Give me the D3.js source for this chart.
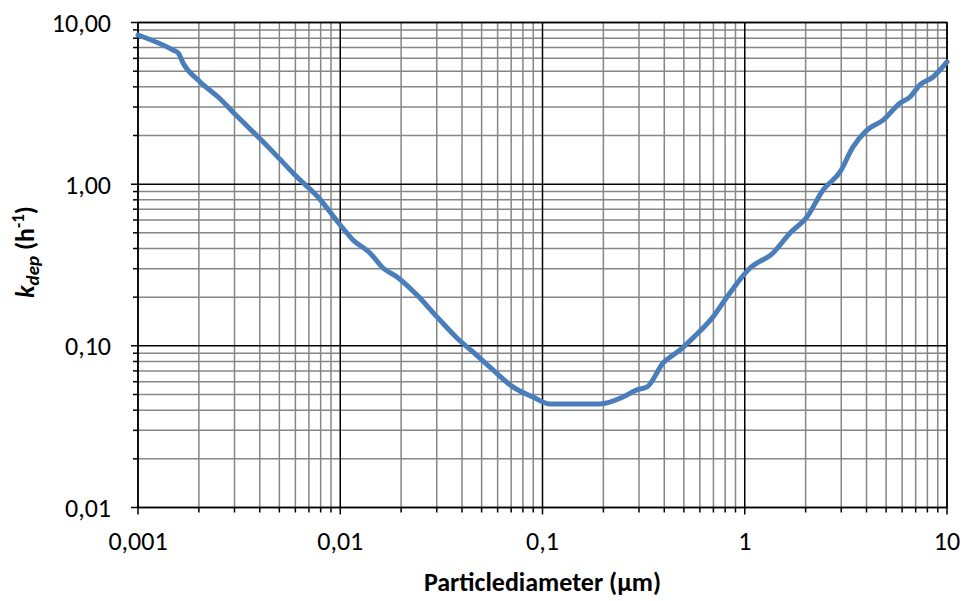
<!DOCTYPE html>
<html>
<head>
<meta charset="utf-8">
<script src="https://cdn.jsdelivr.net/npm/d3@7"></script>
<style>
  body { margin: 0; background: #fff; }
  svg text { font-family: Calibri, Carlito, Lato, "Open Sans", sans-serif; fill: #000; }
</style>
</head>
<body>
<svg id="chart"></svg>
<script>
// particle diameter (µm) and deposition rate k_dep (1/h)
const diameter = [0.001, 0.00149, 0.00158, 0.00167, 0.00203, 0.00249, 0.00312, 0.00406, 0.00492, 0.00597,
    0.00776, 0.0100, 0.01156, 0.01403, 0.01627, 0.01909, 0.02396, 0.03008, 0.03776, 0.0453,
    0.0569, 0.0714, 0.0897, 0.109, 0.192, 0.250, 0.293, 0.329, 0.395, 0.479,
    0.555, 0.697, 0.817, 1.062, 1.38, 1.675, 2.03, 2.44, 2.96, 3.43,
    4.02, 4.83, 5.86, 6.56, 7.35, 8.53, 10];
const kdep = [8.37, 6.76, 6.48, 5.62, 4.29, 3.46, 2.60, 1.88, 1.47, 1.14,
    0.833, 0.559, 0.452, 0.3755, 0.303, 0.267, 0.2064, 0.151, 0.1119, 0.0917,
    0.071, 0.0557, 0.0482, 0.0437, 0.0437, 0.0482, 0.0534, 0.0557, 0.0784, 0.0943,
    0.112, 0.151, 0.2006, 0.303, 0.3755, 0.499, 0.627, 0.921, 1.19, 1.70,
    2.16, 2.49, 3.18, 3.46, 4.11, 4.60, 5.70];

const xTicks = [0.001, 0.01, 0.1, 1, 10];
const xTickLabels = ["0,001", "0,01", "0,1", "1", "10"];
const yTicks = [0.01, 0.1, 1, 10];
const yTickLabels = ["0,01", "0,10", "1,00", "10,00"];

const margin = { top: 22.5, right: 17, bottom: 93.5, left: 138 };
const W = 964, H = 601;
const width = W - margin.left - margin.right;
const height = H - margin.top - margin.bottom;

const svg = d3.select("#chart").attr("width", W).attr("height", H);
const g = svg.append("g").attr("transform", `translate(${margin.left}, ${margin.top})`);

const x = d3.scaleLog().domain([0.001, 10]).range([0, width]);
const y = d3.scaleLog().domain([0.01, 10]).range([height, 0]);

// minor values 2..9 in each decade
const minorX = [];
for (let i = 0; i < xTicks.length - 1; i++)
    for (let m = 2; m <= 9; m++) minorX.push(xTicks[i] * m);
const minorY = [];
for (let i = 0; i < yTicks.length - 1; i++)
    for (let m = 2; m <= 9; m++) minorY.push(yTicks[i] * m);

// minor grid
g.append("g").selectAll("line").data(minorX).join("line")
    .attr("x1", d => x(d)).attr("x2", d => x(d))
    .attr("y1", 0).attr("y2", height)
    .attr("stroke", "#868686").attr("stroke-width", 1.5);
g.append("g").selectAll("line").data(minorY).join("line")
    .attr("y1", d => y(d)).attr("y2", d => y(d))
    .attr("x1", 0).attr("x2", width)
    .attr("stroke", "#868686").attr("stroke-width", 1.5);

// major grid
g.append("g").selectAll("line").data(xTicks).join("line")
    .attr("x1", d => x(d)).attr("x2", d => x(d))
    .attr("y1", 0).attr("y2", height + 7)
    .attr("stroke", "#000").attr("stroke-width", 1.5);
g.append("g").selectAll("line").data(yTicks).join("line")
    .attr("y1", d => y(d)).attr("y2", d => y(d))
    .attr("x1", -7).attr("x2", width)
    .attr("stroke", "#000").attr("stroke-width", 1.5);

// minor tick marks outside the axes
g.append("g").selectAll("line").data(minorX).join("line")
    .attr("x1", d => x(d)).attr("x2", d => x(d))
    .attr("y1", height).attr("y2", height + 5)
    .attr("stroke", "#000").attr("stroke-width", 1.5);
g.append("g").selectAll("line").data(minorY).join("line")
    .attr("y1", d => y(d)).attr("y2", d => y(d))
    .attr("x1", -5).attr("x2", 0)
    .attr("stroke", "#000").attr("stroke-width", 1.5);

g.append("rect")
    .attr("width", width).attr("height", height)
    .attr("fill", "none").attr("stroke", "#000").attr("stroke-width", 1.5);

// tick labels
g.append("g").selectAll("text").data(xTicks).join("text")
    .attr("x", d => x(d)).attr("y", height + 42)
    .attr("text-anchor", "middle")
    .style("font-size", "26px")
    .text((d, i) => xTickLabels[i]);
g.append("g").selectAll("text").data(yTicks).join("text")
    .attr("x", -27).attr("y", d => y(d))
    .attr("text-anchor", "end").attr("dy", "0.36em")
    .style("font-size", "26px")
    .text((d, i) => yTickLabels[i]);

// curve
const line = d3.line()
    .x((d, i) => x(diameter[i]))
    .y((d, i) => y(kdep[i]))
    .curve(d3.curveMonotoneX);
g.append("path")
    .datum(kdep)
    .attr("d", line)
    .attr("fill", "none")
    .attr("stroke", "#4A7EBB")
    .attr("stroke-width", 5)
    .attr("stroke-linejoin", "round")
    .attr("stroke-linecap", "round");

// axis titles
svg.append("text")
    .attr("x", margin.left + width / 2).attr("y", 591)
    .attr("text-anchor", "middle")
    .style("font-size", "26px").style("font-weight", "bold")
    .text("Particlediameter (µm)");

const yt = svg.append("text")
    .attr("transform", `translate(34, 252) rotate(-90)`)
    .attr("text-anchor", "middle")
    .style("font-size", "26px").style("font-weight", "bold");
yt.append("tspan").style("font-style", "italic").text("k");
yt.append("tspan").style("font-style", "italic").style("font-size", "19px")
    .attr("dy", 5).text("dep");
yt.append("tspan").attr("dy", -5).text(" (h");
yt.append("tspan").style("font-size", "17px").attr("dy", -10).text("-1");
yt.append("tspan").attr("dy", 10).text(")");
</script>
</body>
</html>
